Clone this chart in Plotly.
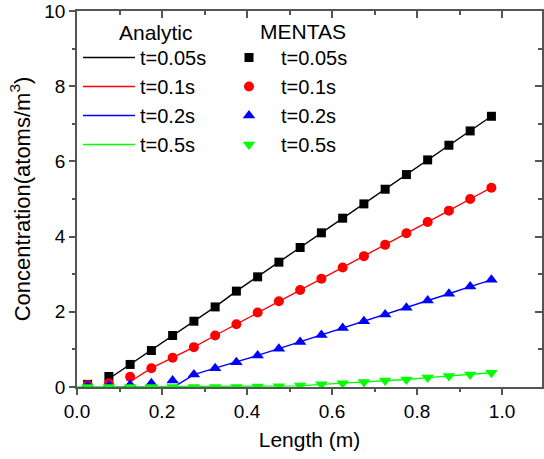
import plotly.graph_objects as go

# ---------------- data ----------------
x_pts = [0.025, 0.075, 0.125, 0.175, 0.225, 0.275, 0.325, 0.375, 0.425, 0.475,
         0.525, 0.575, 0.625, 0.675, 0.725, 0.775, 0.825, 0.875, 0.925, 0.975]

m_005 = [0.07, 0.28, 0.60, 0.97, 1.37, 1.75, 2.13, 2.55, 2.93, 3.32,
         3.71, 4.10, 4.49, 4.87, 5.26, 5.65, 6.04, 6.43, 6.81, 7.20]
m_01 = [0.05, 0.10, 0.27, 0.50, 0.78, 1.06, 1.37, 1.67, 1.98, 2.28,
        2.58, 2.88, 3.18, 3.48, 3.78, 4.09, 4.39, 4.69, 5.00, 5.30]
m_02 = [0.04, 0.04, 0.06, 0.10, 0.17, 0.33, 0.50, 0.66, 0.84, 1.02,
        1.20, 1.38, 1.57, 1.75, 1.93, 2.11, 2.30, 2.48, 2.67, 2.85]
m_05 = [0.0, 0.0, 0.0, 0.0, 0.0, 0.0, 0.0, 0.0, 0.01, 0.02,
        0.04, 0.07, 0.10, 0.13, 0.17, 0.20, 0.25, 0.29, 0.33, 0.38]

a005_x = [0.075, 0.125, 0.175, 0.225, 0.275, 0.325, 0.375, 0.425, 0.475, 0.525,
          0.575, 0.625, 0.675, 0.725, 0.775, 0.825, 0.875, 0.925, 0.975]
a005_y = [0.22, 0.60, 0.97, 1.37, 1.75, 2.13, 2.55, 2.93, 3.32, 3.71,
          4.10, 4.49, 4.87, 5.26, 5.65, 6.04, 6.43, 6.81, 7.20]
a01_x = [0.13, 0.175, 0.225, 0.275, 0.325, 0.375, 0.425, 0.475, 0.525, 0.575,
         0.625, 0.675, 0.725, 0.775, 0.825, 0.875, 0.925, 0.975]
a01_y = [0.18, 0.50, 0.78, 1.06, 1.37, 1.67, 1.98, 2.28, 2.58, 2.88,
         3.18, 3.48, 3.78, 4.09, 4.39, 4.69, 5.00, 5.30]
a02_x = [0.235, 0.275, 0.325, 0.375, 0.425, 0.475, 0.525, 0.575, 0.625, 0.675,
         0.725, 0.775, 0.825, 0.875, 0.925, 0.975]
a02_y = [0.05, 0.33, 0.50, 0.66, 0.84, 1.02, 1.20, 1.38, 1.57, 1.75,
         1.93, 2.11, 2.30, 2.48, 2.67, 2.85]
a05_x = [0.0, 0.525, 0.575, 0.625, 0.675, 0.725, 0.775, 0.825, 0.875, 0.925, 0.975]
a05_y = [0.0, 0.03, 0.07, 0.10, 0.13, 0.17, 0.20, 0.25, 0.29, 0.33, 0.38]

labels = ["t=0.05s", "t=0.1s", "t=0.2s", "t=0.5s"]
colors = ["#000000", "#ff0000", "#0000ff", "#00ff00"]
symbols = ["square", "circle", "triangle-up", "triangle-down"]
msizes = [9, 10, 11, 11]

x_tickvals = [0.0, 0.2, 0.4, 0.6, 0.8, 1.0]
y_tickvals = [0, 2, 4, 6, 8, 10]

FONT = "Arial, Liberation Sans, sans-serif"

fig = go.Figure()

analytic = [(a005_x, a005_y), (a01_x, a01_y), (a02_x, a02_y), (a05_x, a05_y)]
for (ax, ay), lab, col in zip(analytic, labels, colors):
    fig.add_trace(go.Scatter(x=ax, y=ay, mode="lines", name=lab,
                             line=dict(color=col, width=1.4), legend="legend"))

mentas = [m_005, m_01, m_02, m_05]
for my, lab, col, sym, ms in zip(mentas, labels, colors, symbols, msizes):
    fig.add_trace(go.Scatter(x=x_pts, y=my, mode="markers", name=lab,
                             marker=dict(color=col, symbol=sym, size=ms, line=dict(width=0)),
                             legend="legend2"))

# dummy trace for the mirrored (inside-tick) top/right axes
fig.add_trace(go.Scatter(x=[None], y=[None], xaxis="x2", yaxis="y2",
                         showlegend=False, hoverinfo="skip"))

XR = [0, 1.094]
YR = [0, 10]
axcol = "#555555"

L, R, T, B = 77, 2, 11, 72
W_PLOT = 544 - L - R
H_PLOT = 459 - T - B


def px_x(p):
    return (p - L) / W_PLOT


def px_y(p):
    return (459 - B - p) / H_PLOT


fig.update_layout(
    width=544, height=459,
    margin=dict(l=L, r=R, t=T, b=B),
    paper_bgcolor="white", plot_bgcolor="white",
    font=dict(family=FONT, size=19, color="black"),
    xaxis=dict(range=XR, tickvals=x_tickvals, ticktext=[f"{v:.1f}" for v in x_tickvals],
               ticks="outside", ticklen=6, tickwidth=1.5, tickcolor=axcol,
               minor=dict(tickvals=[0.1, 0.3, 0.5, 0.7, 0.9], ticks="outside", ticklen=3,
                          tickwidth=1.5, tickcolor=axcol),
               showline=True, linecolor=axcol, linewidth=1.6, showgrid=False, zeroline=False,
               title=dict(text="Length (m)", font=dict(size=21), standoff=12),
               tickfont=dict(size=19)),
    yaxis=dict(range=YR, tickvals=y_tickvals, ticktext=[str(v) for v in y_tickvals],
               ticks="outside", ticklen=6, tickwidth=1.5, tickcolor=axcol,
               minor=dict(tickvals=[1, 3, 5, 7, 9], ticks="outside", ticklen=3,
                          tickwidth=1.5, tickcolor=axcol),
               showline=True, linecolor=axcol, linewidth=1.6, showgrid=False, zeroline=False,
               title=dict(text="Concentration(atoms/m<sup>3</sup>)", font=dict(size=22), standoff=8),
               tickfont=dict(size=19)),
    xaxis2=dict(range=XR, overlaying="x", side="top", tickvals=x_tickvals,
                showticklabels=False, ticks="inside", ticklen=7, tickwidth=1.5, tickcolor=axcol,
                minor=dict(tickvals=[0.1, 0.3, 0.5, 0.7, 0.9], ticks="inside", ticklen=4,
                           tickwidth=1.5, tickcolor=axcol),
                showline=True, linecolor=axcol, linewidth=1.6, showgrid=False, zeroline=False),
    yaxis2=dict(range=YR, overlaying="y", side="right", tickvals=y_tickvals,
                showticklabels=False, ticks="inside", ticklen=7, tickwidth=1.5, tickcolor=axcol,
                minor=dict(tickvals=[1, 3, 5, 7, 9], ticks="inside", ticklen=4,
                           tickwidth=1.5, tickcolor=axcol),
                showline=True, linecolor=axcol, linewidth=1.6, showgrid=False, zeroline=False),
    legend=dict(x=px_x(78), y=px_y(38), xanchor="left", yanchor="top",
                bgcolor="rgba(0,0,0,0)", font=dict(size=20), itemwidth=52, tracegroupgap=0),
    legend2=dict(x=px_x(217), y=px_y(38), xanchor="left", yanchor="top",
                 bgcolor="rgba(0,0,0,0)", font=dict(size=20), itemwidth=54, tracegroupgap=0),
    annotations=[
        dict(text="Analytic", x=px_x(156), y=px_y(33), xref="paper", yref="paper",
             xanchor="center", yanchor="middle", showarrow=False, font=dict(size=21)),
        dict(text="MENTAS", x=px_x(303), y=px_y(31), xref="paper", yref="paper",
             xanchor="center", yanchor="middle", showarrow=False, font=dict(size=21)),
    ],
)

fig.write_html("out.html")
